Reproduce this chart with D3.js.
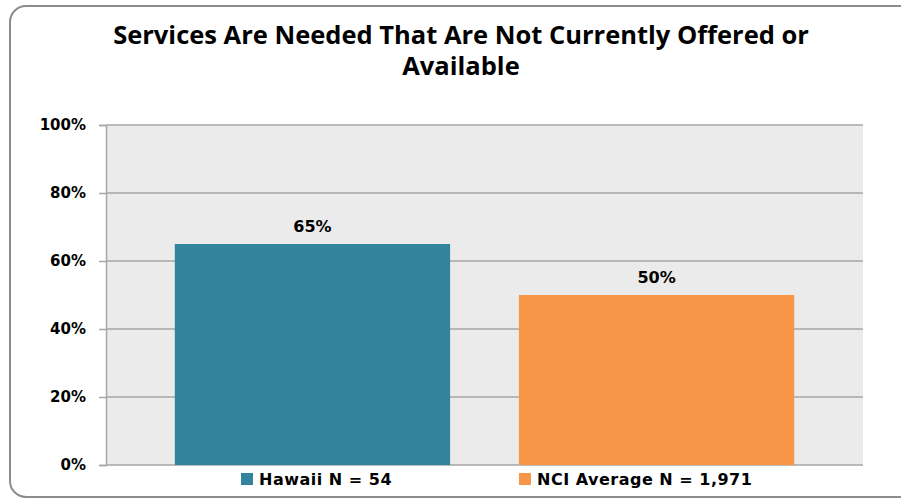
<!DOCTYPE html>
<html>
<head>
<meta charset="utf-8">
<script src="https://cdn.jsdelivr.net/npm/d3@7"></script>
<style>
  html, body { margin: 0; padding: 0; background: #fff; }
  svg { display: block; }
</style>
</head>
<body>
<svg id="chart" width="901" height="500"></svg>
<script>
// Chart data
const titleLines = ["Services Are Needed That Are Not Currently Offered or", "Available"];
const seriesNames = ["Hawaii N = 54", "NCI Average N = 1,971"];
const seriesValues = [65, 50];
const seriesColors = ["#32849c", "#f79646"];
const yTicks = [0, 20, 40, 60, 80, 100];

const svg = d3.select("#chart");
const plot = { left: 106, right: 863, top: 125, bottom: 465 };
const labelFont = "'DejaVu Sans', Verdana, sans-serif";

// Outer frame with rounded corners
svg.append("rect")
  .attr("x", 10).attr("y", 6)
  .attr("width", 905).attr("height", 491)
  .attr("rx", 16).attr("ry", 16)
  .attr("fill", "#fff")
  .attr("stroke", "#8c8c8c")
  .attr("stroke-width", 2);

// Title
svg.append("g").selectAll("text")
  .data(titleLines)
  .join("text")
  .attr("x", 461)
  .attr("y", (d, i) => 44 + i * 31)
  .attr("text-anchor", "middle")
  .attr("font-family", "'Open Sans', sans-serif")
  .attr("font-weight", "bold")
  .attr("font-size", 25.5)
  .attr("fill", "#000")
  .text(d => d);

const y = d3.scaleLinear().domain([0, 100]).range([plot.bottom, plot.top]);
const x = d3.scaleBand().domain(seriesNames).range([plot.left, plot.right])
  .paddingInner(0.2).paddingOuter(0.2);

// Plot background
svg.append("rect")
  .attr("x", plot.left).attr("y", plot.top)
  .attr("width", plot.right - plot.left).attr("height", plot.bottom - plot.top)
  .attr("fill", "#ebebeb");

// Gridlines
svg.append("g").selectAll("line")
  .data(yTicks)
  .join("line")
  .attr("x1", plot.left).attr("x2", plot.right)
  .attr("y1", d => y(d)).attr("y2", d => y(d))
  .attr("stroke", "#a6a6a6")
  .attr("stroke-width", 1.5);

// Y axis
const yAxis = svg.append("g")
  .attr("transform", `translate(${plot.left},0)`)
  .call(d3.axisLeft(y).tickValues(yTicks).tickFormat(d => d + "%").tickSize(7).tickPadding(13));
yAxis.select(".domain").attr("stroke", "#a6a6a6").attr("stroke-width", 1.5);
yAxis.selectAll(".tick line").attr("stroke", "#a6a6a6").attr("stroke-width", 1.5);
yAxis.selectAll(".tick text")
  .attr("font-family", labelFont)
  .attr("font-weight", "bold")
  .attr("font-size", 15)
  .attr("fill", "#000");

// Bars
const barData = seriesNames.map((n, i) => ({ name: n, value: seriesValues[i], color: seriesColors[i] }));
svg.append("g").selectAll("rect")
  .data(barData)
  .join("rect")
  .attr("x", d => x(d.name))
  .attr("y", d => y(d.value))
  .attr("width", x.bandwidth())
  .attr("height", d => y(0) - y(d.value))
  .attr("fill", d => d.color);

// Value labels
svg.append("g").selectAll("text")
  .data(barData)
  .join("text")
  .attr("x", d => x(d.name) + x.bandwidth() / 2)
  .attr("y", d => y(d.value) - 12)
  .attr("text-anchor", "middle")
  .attr("font-family", labelFont)
  .attr("font-weight", "bold")
  .attr("font-size", 16)
  .attr("fill", "#000")
  .text(d => d.value + "%");

// Legend
const legendX = [241, 519];
const legend = svg.append("g").selectAll("g")
  .data(barData.map((d, i) => ({ ...d, x: legendX[i] })))
  .join("g")
  .attr("transform", d => `translate(${d.x},473)`);
legend.append("rect")
  .attr("width", 12).attr("height", 12)
  .attr("fill", d => d.color);
legend.append("text")
  .attr("x", 18).attr("y", 12)
  .attr("font-family", labelFont)
  .attr("font-weight", "bold")
  .attr("font-size", 16)
  .attr("letter-spacing", 0.5)
  .attr("fill", "#000")
  .text(d => d.name);
</script>
</body>
</html>
